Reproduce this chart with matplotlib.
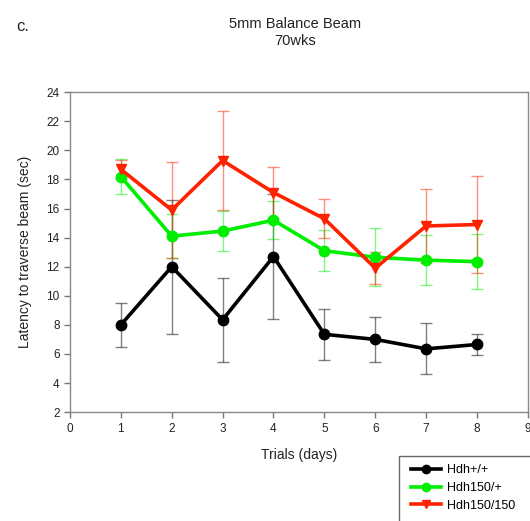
import matplotlib
matplotlib.use('Agg')
import matplotlib.pyplot as plt
from matplotlib.lines import Line2D
from matplotlib.patches import Rectangle

plt.rcParams['font.family'] = ['Liberation Sans', 'DejaVu Sans']

trials = [1, 2, 3, 4, 5, 6, 7, 8]

wt_mean = [8.0, 12.0, 8.35, 12.7, 7.35, 7.0, 6.35, 6.65]
wt_err = [1.5, 4.6, 2.9, 4.3, 1.75, 1.55, 1.75, 0.7]

het_mean = [18.2, 14.1, 14.45, 15.2, 13.1, 12.65, 12.45, 12.35]
het_err = [1.2, 1.5, 1.4, 1.3, 1.4, 2.0, 1.7, 1.9]

hom_mean = [18.7, 15.9, 19.3, 17.1, 15.3, 11.9, 14.8, 14.9]
hom_err = [0.65, 3.3, 3.4, 1.75, 1.35, 1.1, 2.55, 3.35]

labels = ['Hdh+/+', 'Hdh150/+', 'Hdh150/150']
colors = ['black', '#00ee00', '#ff2200']
markers = ['o', 'o', 'v']

fig = plt.figure(figsize=(5.30, 5.21), dpi=100)
ax = fig.add_axes([0.132, 0.209, 0.864, 0.614])

series = [(wt_mean, wt_err), (het_mean, het_err), (hom_mean, hom_err)]
for (m, e), c, mk in zip(series, colors, markers):
    ax.errorbar(trials, m, yerr=e, fmt='none', ecolor=c, elinewidth=1,
                capsize=4, capthick=1, alpha=0.5, zorder=2)
    ax.plot(trials, m, color=c, lw=2.6, marker=mk, ms=7.5, zorder=3)

ax.set_xlim(0, 9)
ax.set_ylim(2, 24)
ax.set_xticks(range(0, 10))
ax.set_yticks(range(2, 25, 2))
ax.tick_params(direction='out', length=4, width=1, color='#777777', labelsize=8.5,
               labelcolor='#222222')
for s in ax.spines.values():
    s.set_color('#888888')
    s.set_linewidth(1)

ax.set_xlabel('Trials (days)', fontsize=10, color='#222222', labelpad=10)
ax.set_ylabel('Latency to traverse beam (sec)', fontsize=10, color='#222222', labelpad=10)

fig.text(0.557, 0.968, '5mm Balance Beam\n70wks', ha='center', va='top',
         fontsize=10.5, color='#222222', linespacing=1.3)
fig.text(0.03, 0.963, 'c.', ha='left', va='top', fontsize=12, color='#222222')

# legend box runs off the right/bottom edge like the original
fig.patches.append(Rectangle((399 / 530, -0.01), 0.3, 0.135, transform=fig.transFigure,
                             fill=False, edgecolor='#666666', lw=1))
handles = [Line2D([0], [0], color=c, lw=2.6, marker=mk, ms=6)
           for c, mk in zip(colors, markers)]
leg = fig.legend(handles, labels, loc='upper left', bbox_to_anchor=(0.757, 0.128),
                 fontsize=9, frameon=False, borderpad=0.3,
                 handlelength=2.4, labelspacing=0.45, handletextpad=0.5)

fig.savefig('out.png', dpi=100)
